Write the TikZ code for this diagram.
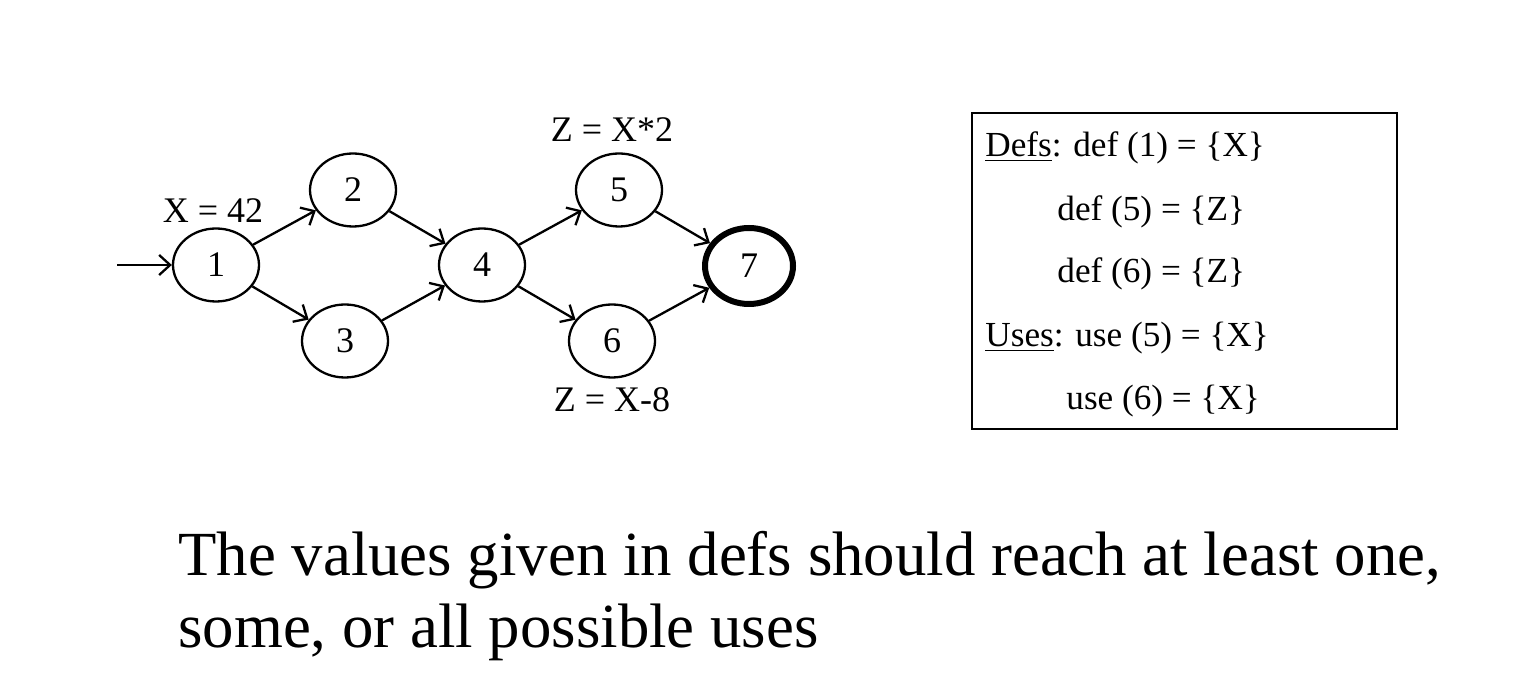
\documentclass[tikz,border=0pt]{standalone}
\usepackage{fontspec}
\setmainfont{Liberation Serif}
\usetikzlibrary{arrows.meta,shapes.geometric}
\begin{document}
\begin{tikzpicture}[x=0.5pt,y=-0.5pt,
  st/.style={draw, ellipse, line width=1.15pt, minimum width=43pt, minimum height=36.5pt, inner sep=0pt, font=\fontsize{18}{21}\selectfont},
  final/.style={st, line width=3pt, minimum width=44pt, minimum height=38pt},
  edge/.style={line width=1.15pt, -{Straight Barb[length=5.5pt,width=10pt,line width=1.15pt]}},
  lbl/.style={anchor=base, inner sep=0pt, font=\fontsize{18}{21}\selectfont},
  boxtxt/.style={anchor=base west, inner sep=0pt, font=\fontsize{17.6}{21}\selectfont},
  bigtxt/.style={anchor=base west, inner sep=0pt, font=\fontsize{31.4}{36}\selectfont}]
\useasboundingbox (0,0) rectangle (1536,688);
\node[st] (n1) at (216,265) {1};
\node[st] (n2) at (353,190) {2};
\node[st] (n3) at (345,341) {3};
\node[st] (n4) at (482,265) {4};
\node[st] (n5) at (619,190) {5};
\node[st] (n6) at (612,341) {6};
\node[final] (n7) at (749,266) {7};
\coordinate (start) at (117,265);
\draw[edge] (start) -- (n1);
\draw[edge] (n1) -- (n2);
\draw[edge] (n1) -- (n3);
\draw[edge] (n2) -- (n4);
\draw[edge] (n3) -- (n4);
\draw[edge] (n4) -- (n5);
\draw[edge] (n4) -- (n6);
\draw[edge] (n5) -- (n7);
\draw[edge] (n6) -- (n7);
\node[lbl] (lx) at (213,223) {X = 42};
\node[lbl] (lz5) at (612,142) {Z = X*2};
\node[lbl] (lz6) at (612,412) {Z = X-8};
\node[draw, line width=0.75pt, minimum width=212.5pt, minimum height=158pt, inner sep=0pt] (box) at (1184.5,271) {};
\node[boxtxt] (d1) at (985,157) {\underline{Defs}: def (1) = \{X\}};
\node[boxtxt] (d5) at (1057,221) {def (5) = \{Z\}};
\node[boxtxt] (d6) at (1057,283) {def (6) = \{Z\}};
\node[boxtxt] (u5) at (985,347) {\underline{Uses}: use (5) = \{X\}};
\node[boxtxt] (u6) at (1066,410) {use (6) = \{X\}};
\node[bigtxt] (t1) at (178,576) {The values given in defs should reach at least one,};
\node[bigtxt] (t2) at (178,648) {some, or all possible uses};
\end{tikzpicture}
\end{document}
